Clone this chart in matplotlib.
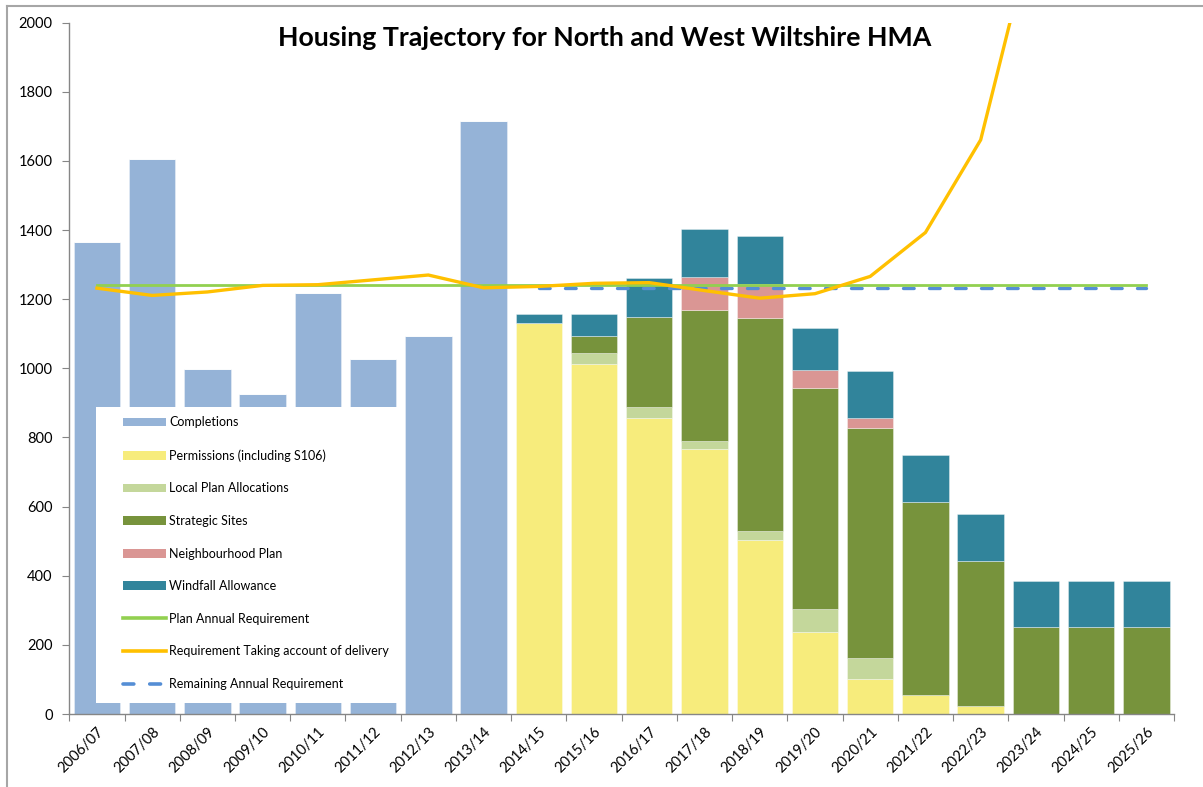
import numpy as np
import matplotlib
matplotlib.use("Agg")
import matplotlib.pyplot as plt
from matplotlib.lines import Line2D
from matplotlib.patches import Patch, Rectangle

plt.rcParams['font.family'] = ['Lato', 'DejaVu Sans']

years = ['2006/07', '2007/08', '2008/09', '2009/10', '2010/11', '2011/12', '2012/13',
         '2013/14', '2014/15', '2015/16', '2016/17', '2017/18', '2018/19', '2019/20',
         '2020/21', '2021/22', '2022/23', '2023/24', '2024/25', '2025/26']

completions = [1365, 1607, 998, 926, 1219, 1027, 1094, 1716, 0, 0, 0, 0, 0, 0, 0, 0, 0, 0, 0, 0]
permissions = [0, 0, 0, 0, 0, 0, 0, 0, 1131, 1013, 857, 768, 504, 236, 101, 55, 23, 0, 0, 0]
local_plan = [0, 0, 0, 0, 0, 0, 0, 0, 0, 32, 32, 21, 25, 68, 61, 0, 0, 0, 0, 0]
strategic = [0, 0, 0, 0, 0, 0, 0, 0, 0, 50, 259, 379, 618, 640, 664, 559, 419, 251, 251, 251]
neighbourhood = [0, 0, 0, 0, 0, 0, 0, 0, 0, 0, 0, 96, 97, 50, 31, 0, 0, 0, 0, 0]
windfall = [0, 0, 0, 0, 0, 0, 0, 0, 27, 63, 113, 139, 139, 122, 134, 135, 136, 135, 135, 135]

plan_req = [1240] * 20
delivery_req = [1232, 1211, 1221, 1240, 1242, 1256, 1270, 1233, 1237, 1246, 1248, 1225,
                1203, 1216, 1266, 1393, 1661, 2302, 3100, 4600]
remaining_req = [np.nan] * 8 + [1232] * 12

series = [
    ('Completions', completions, '#95B3D7'),
    ('Permissions (including S106)', permissions, '#F7EC7C'),
    ('Local Plan Allocations', local_plan, '#C4D79B'),
    ('Strategic Sites', strategic, '#77933C'),
    ('Neighbourhood Plan', neighbourhood, '#DA9694'),
    ('Windfall Allowance', windfall, '#31849B'),
]

W, H = 1203, 787
fig = plt.figure(figsize=(W / 100, H / 100), dpi=100)
ax = fig.add_axes([69.3 / W, 1 - 714 / H, (1174 - 69.3) / W, (714 - 22.7) / H])

x = np.arange(len(years))
bottom = np.zeros(len(years))
handles = []
for name, vals, col in series:
    v = np.array(vals, dtype=float)
    ax.bar(x, v, width=0.84, bottom=bottom, color=col, edgecolor=(1, 1, 1, 0.5),
           linewidth=0.5, zorder=2)
    bottom += v
    handles.append(Patch(facecolor=col, label=name))

ax.plot(x, remaining_req, color='#558ED5', lw=2.4, dashes=(3.2, 4.6),
        dash_capstyle='round', zorder=3)
ax.plot(x, plan_req, color='#92D050', lw=2.0, zorder=4)
ax.plot(x, delivery_req, color='#FFC000', lw=2.4, zorder=5, solid_joinstyle='miter')

handles.append(Line2D([], [], color='#92D050', lw=2.6, label='Plan Annual Requirement'))
handles.append(Line2D([], [], color='#FFC000', lw=2.6, label='Requirement Taking account of delivery'))
handles.append(Line2D([], [], color='#558ED5', lw=2.6, dashes=(3.0, 4.4), dash_capstyle='round',
                      label='Remaining Annual Requirement'))

ax.set_xlim(-0.5, len(years) - 0.5)
ax.set_ylim(0, 2000)
ax.set_yticks(np.arange(0, 2001, 200))
ax.set_xticks(np.arange(-0.5, len(years), 1.0))
ax.set_xticklabels([])
ax.set_xticks(x, minor=True)
ax.set_xticklabels(years, minor=True, rotation=45, ha='right', rotation_mode='anchor',
                   fontsize=10.5)
ax.tick_params(axis='x', which='minor', length=0, pad=8)
ax.tick_params(axis='x', which='major', length=5, color='#868686', direction='out')
ax.tick_params(axis='y', length=5, color='#868686', labelsize=10.5, pad=7)
for s in ['top', 'right']:
    ax.spines[s].set_visible(False)
for s in ['left', 'bottom']:
    ax.spines[s].set_color('#868686')
    ax.spines[s].set_linewidth(1.0)

# legend box (opaque white, no border)
box = Rectangle((96 / W, 1 - 703 / H), (405 - 96) / W, (703 - 407) / H,
                transform=fig.transFigure, facecolor='white', edgecolor='none', zorder=6)
fig.add_artist(box)
leg = fig.legend(handles=handles, loc='upper left', bbox_to_anchor=(110 / W, 1 - 404 / H),
                 frameon=False, fontsize=9, handlelength=3.44, handletextpad=0.3,
                 labelspacing=1.65, borderpad=0.5)
leg.set_zorder(7)

fig.text(605 / W, 1 - 38 / H, 'Housing Trajectory for North and West Wiltshire HMA',
         ha='center', va='center', fontsize=19.3, fontweight='bold')

# chart area border
fig.add_artist(Line2D([7 / W, 7 / W], [0, 1 - 6 / H], color='#A6A6A6', lw=1.5,
                      transform=fig.transFigure))
fig.add_artist(Line2D([7 / W, 1], [1 - 6 / H, 1 - 6 / H], color='#A6A6A6', lw=1.5,
                      transform=fig.transFigure))

fig.savefig('out.png', dpi=100)
